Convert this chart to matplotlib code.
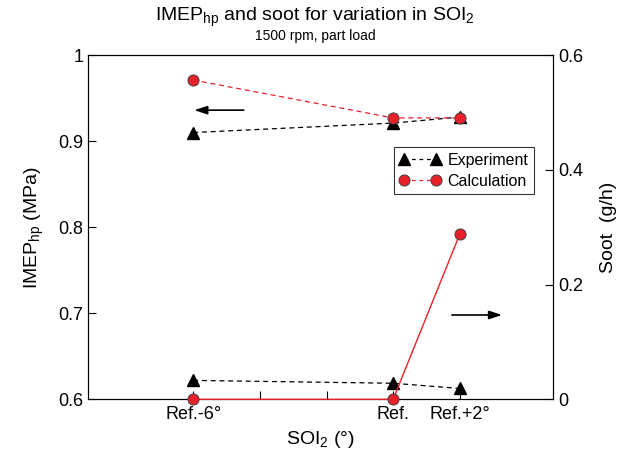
"""
IMEP_hp and soot for variation in SOI_2 (1500 rpm, part load).
Experiment vs. calculation, twin y-axes.
"""

import matplotlib.pyplot as plt

plt.rcParams['font.family'] = ['Liberation Sans', 'DejaVu Sans']
plt.rcParams['mathtext.fontset'] = 'custom'
plt.rcParams['mathtext.rm'] = 'Liberation Sans'
plt.rcParams['mathtext.it'] = 'Liberation Sans'

# Data
soi = [-6, 0, 2]
tick_pos = [-6, 0, 2]
tick_labels = ['Ref.-6°', 'Ref.', 'Ref.+2°']
minor_pos = [-4, -2]

imep_exp = [0.910, 0.921, 0.928]
imep_calc = [0.971, 0.927, 0.927]
soot_exp = [0.033, 0.028, 0.019]
soot_calc = [0.0, 0.0, 0.288]

fig, ax = plt.subplots(figsize=(6.3, 4.59), dpi=100)
fig.subplots_adjust(left=0.14, right=0.878, top=0.88, bottom=0.13)
ax2 = ax.twinx()

red = '#e8202a'

# IMEP (left axis)
ax.plot(soi, imep_exp, '--', color='black', lw=0.9, dashes=(4, 3),
        marker='^', ms=8, mfc='black', mec='black', zorder=3)
ax.plot(soi, imep_calc, '--', color=red, lw=0.9, dashes=(4, 3),
        marker='o', ms=8, mfc=red, mec='#444444', mew=0.7, zorder=4)

# Soot (right axis)
ax2.plot(soi, soot_exp, '--', color='black', lw=0.9, dashes=(4, 3),
         marker='^', ms=8, mfc='black', mec='black', clip_on=False, zorder=3)
ax2.plot(soi, soot_calc, '-', color=red, lw=1.0,
         marker='o', ms=8, mfc=red, mec='#444444', mew=0.7, clip_on=False, zorder=4)

ax.set_xlim(-9.15, 4.8)
ax.set_ylim(0.6, 1.0)
ax2.set_ylim(0, 0.6)

ax.set_xticks(tick_pos)
ax.set_xticklabels(tick_labels)
ax.set_xticks(minor_pos, minor=True)
ax.set_yticks([0.6, 0.7, 0.8, 0.9, 1.0])
ax.set_yticklabels(['0.6', '0.7', '0.8', '0.9', '1'])
ax2.set_yticks([0, 0.2, 0.4, 0.6])
ax2.set_yticklabels(['0', '0.2', '0.4', '0.6'])

ax.tick_params(axis='both', which='both', direction='in', labelsize=13, length=6, width=0.8)
ax.tick_params(axis='x', which='major', pad=5)
ax2.tick_params(axis='y', direction='in', labelsize=13, length=6, width=0.8)

for a in (ax, ax2):
    for s in a.spines.values():
        s.set_linewidth(0.8)

ax.set_xlabel('SOI$_2$ (°)', fontsize=14, labelpad=4)
ax.set_ylabel('IMEP$_{hp}$ (MPa)', fontsize=14, labelpad=9)
ax2.set_ylabel('Soot  (g/h)', fontsize=14, labelpad=12)

fig.text(0.5, 0.962, 'IMEP$_{hp}$ and soot for variation in SOI$_2$',
         ha='center', va='center', fontsize=14)
fig.text(0.5, 0.922, '1500 rpm, part load', ha='center', va='center', fontsize=10)

# direction arrows
arrow = dict(arrowstyle='-|>,head_length=0.55,head_width=0.18',
             color='black', lw=1.2, mutation_scale=14)
ax.annotate('', xy=(-6.05, 0.936), xytext=(-4.4, 0.936), arrowprops=arrow)
ax.annotate('', xy=(3.35, 0.698), xytext=(1.68, 0.698), arrowprops=arrow)

# legend
h1, = ax.plot([], [], '--', color='black', lw=0.9, dashes=(3, 3),
              marker='^', ms=8, mfc='black', mec='black')
h2, = ax.plot([], [], '--', color=red, lw=0.9, dashes=(3, 3),
              marker='o', ms=8, mfc=red, mec='#444444', mew=0.7)
leg = ax.legend([h1, h2], ['Experiment', 'Calculation'], loc='upper left',
                bbox_to_anchor=(0.64, 0.755), fontsize=11.5, frameon=True,
                fancybox=False, edgecolor='black', handlelength=2.6, numpoints=2,
                borderpad=0.35, labelspacing=0.35, handletextpad=0.4)
leg.get_frame().set_linewidth(0.8)

plt.savefig('out.png', dpi=100)
